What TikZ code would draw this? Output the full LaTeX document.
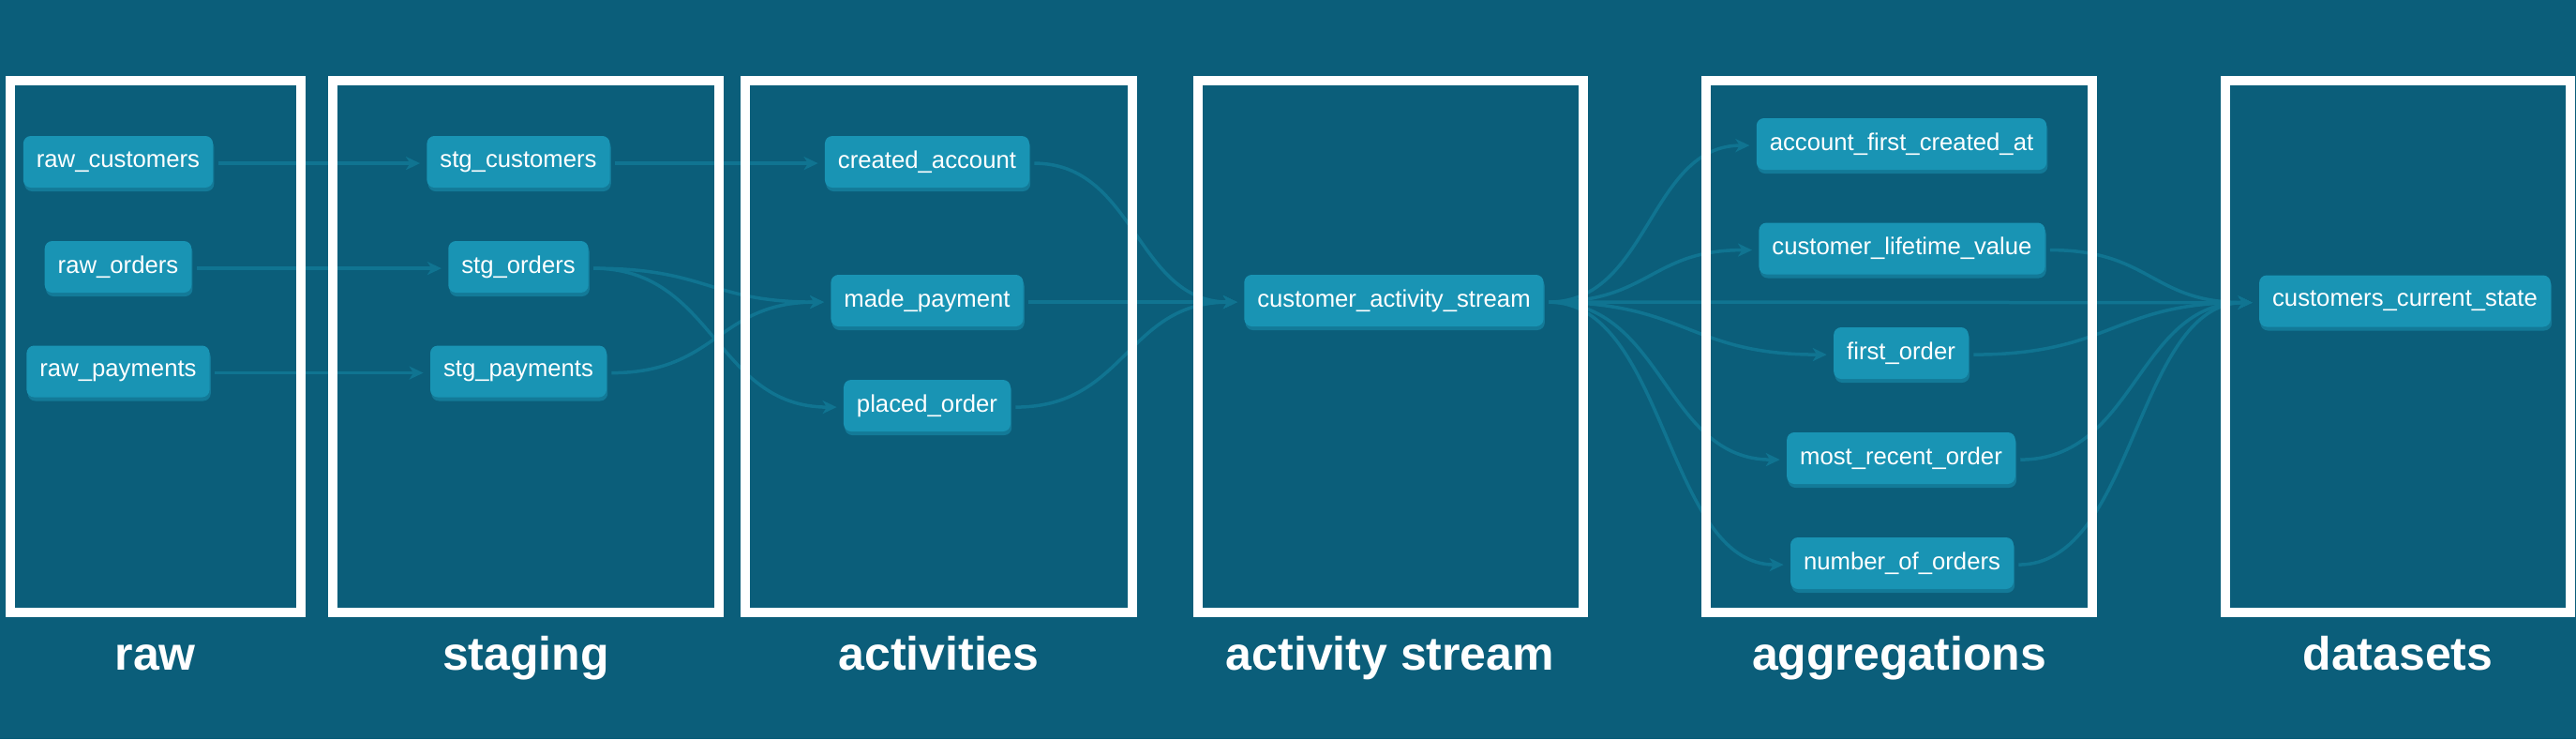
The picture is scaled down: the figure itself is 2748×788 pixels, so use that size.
\documentclass[tikz,border=0pt]{standalone}
\usepackage{fontspec}
\setmainfont{Liberation Sans}
\usetikzlibrary{arrows.meta,calc,shadows}
\definecolor{bgcol}{RGB}{11,94,122}
\definecolor{nodecol}{RGB}{25,148,180}
\definecolor{shadowcol}{RGB}{19,122,152}
\definecolor{edgecol}{RGB}{16,116,145}
\pgfdeclarelayer{bglayer}
\pgfdeclarelayer{midlayer}
\pgfsetlayers{bglayer,midlayer,main}
\tikzset{
  model/.style={fill=nodecol, rounded corners=4pt, text=white, font=\fontsize{12.85}{14}\selectfont,
    minimum height=27.5pt, inner xsep=7pt, inner ysep=0pt,
    drop shadow={shadow xshift=0.6pt, shadow yshift=-2pt, fill=shadowcol, opacity=1}},
  edge/.style={draw=edgecol, line width=1.75pt, -{Stealth[length=7.5pt,width=7pt,inset=2.2pt]}},
  group/.style={draw=white, line width=5pt},
  grouplabel/.style={text=white, font=\bfseries\fontsize{25}{30}\selectfont, anchor=base}
}
\newcommand\lnk[2]{\draw[edge] let \p1=([xshift=2.5pt,yshift=-0.8pt]#1.east), \p2=([xshift=-3.5pt,yshift=-0.8pt]#2.west), \n1={0.5*\x1+0.5*\x2} in (\p1) .. controls (\n1,\y1) and (\n1,\y2) .. (\p2);}
\begin{document}
\begin{tikzpicture}[x=0.5pt,y=-0.5pt]
\useasboundingbox (0,0) rectangle (2748,788);
% nodes
\node[model] (rawc) at (126,172.5) {raw\_customers};
\node[model] (rawo) at (126,284.5) {raw\_orders};
\node[model] (rawp) at (126,396) {raw\_payments};
\node[model] (stgc) at (553,172.5) {stg\_customers};
\node[model] (stgo) at (553,284.5) {stg\_orders};
\node[model] (stgp) at (553,396) {stg\_payments};
\node[model] (ca) at (989,172.5) {created\_account};
\node[model] (mp) at (989,320.5) {made\_payment};
\node[model] (po) at (989,432.5) {placed\_order};
\node[model] (cas) at (1487,320.5) {customer\_activity\_stream};
\node[model] (afca) at (2028.5,153.5) {account\_first\_created\_at};
\node[model] (clv) at (2029,265) {customer\_lifetime\_value};
\node[model] (fo) at (2028,376.5) {first\_order};
\node[model] (mro) at (2028,488.5) {most\_recent\_order};
\node[model] (noo) at (2029,600.5) {number\_of\_orders};
\node[model] (ccs) at (2565.5,321) {customers\_current\_state};
% group labels
\node[grouplabel] (lraw) at (165.8,714) {raw};
\node[grouplabel] (lstg) at (561,714) {staging};
\node[grouplabel] (lact) at (1001.5,714) {activities};
\node[grouplabel] (lstr) at (1483,714) {activity stream};
\node[grouplabel] (lagg) at (2026,714) {aggregations};
\node[grouplabel] (lds) at (2558,714) {datasets};
\begin{pgfonlayer}{bglayer}
\fill[bgcol] (0,0) rectangle (2748,788);
\lnk{rawc}{stgc}
\lnk{rawo}{stgo}
\lnk{rawp}{stgp}
\lnk{stgc}{ca}
\lnk{stgo}{mp}
\lnk{stgo}{po}
\lnk{stgp}{mp}
\lnk{ca}{cas}
\lnk{mp}{cas}
\lnk{po}{cas}
\lnk{cas}{afca}
\lnk{cas}{clv}
\lnk{cas}{fo}
\lnk{cas}{mro}
\lnk{cas}{noo}
\lnk{cas}{ccs}
\lnk{clv}{ccs}
\lnk{fo}{ccs}
\lnk{mro}{ccs}
\lnk{noo}{ccs}
\end{pgfonlayer}
\begin{pgfonlayer}{midlayer}
\draw[group] (11,86) rectangle (320.5,652.5);
\draw[group] (355,86) rectangle (767,652.5);
\draw[group] (795.3,86) rectangle (1208,652.5);
\draw[group] (1277.5,86) rectangle (1689,652.5);
\draw[group] (1820,86) rectangle (2232,652.5);
\draw[group] (2374,86) rectangle (2742,652.5);
\end{pgfonlayer}
\end{tikzpicture}
\end{document}
